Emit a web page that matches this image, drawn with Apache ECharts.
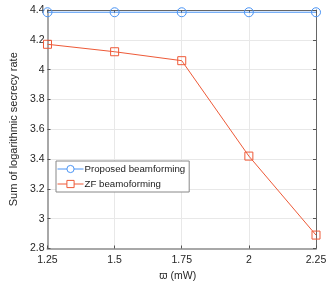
<!DOCTYPE html>
<html>
<head>
<meta charset="utf-8">
<script src="https://cdn.jsdelivr.net/npm/echarts@6/dist/echarts.min.js"></script>
<style>html,body{margin:0;padding:0;background:#fff;}#c{width:332px;height:287px;}</style>
</head>
<body>
<div id="c"></div>
<script>
const xValues = [1.25, 1.5, 1.75, 2, 2.25];
const proposed = [4.385, 4.385, 4.385, 4.385, 4.385];
const zf = [4.17, 4.12, 4.06, 3.42, 2.89];
const seriesNames = ['Proposed beamforming', 'ZF beamoforming'];
const yLabel = 'Sum of logarithmic secrecy rate';
const xLabel = 'ϖ (mW)';

const FONT = 'Liberation Sans';
const BLUE = '#4a94f5';
const ORANGE = '#ee5a38';
const chart = echarts.init(document.getElementById('c'), null, {renderer: 'canvas'});
const pair = arr => xValues.map((x, i) => [x, arr[i]]);
chart.setOption({
  animation: false,
  backgroundColor: '#fff',
  grid: {left: 40, right: 16, top: 10, bottom: 38.5},
  legend: {
    left: 56, top: 161,
    orient: 'vertical',
    data: [
      {name: seriesNames[0],
       itemStyle: {color: '#fff', borderColor: BLUE, borderWidth: 1},
       lineStyle: {color: BLUE, width: 1}},
      {name: seriesNames[1],
       itemStyle: {color: '#fff', borderColor: ORANGE, borderWidth: 1},
       lineStyle: {color: ORANGE, width: 1}}
    ],
    itemWidth: 26, itemHeight: 9, itemGap: 5,
    padding: [3, 4, 3, 1],
    borderColor: '#888', borderWidth: 1,
    backgroundColor: '#fff',
    textStyle: {fontFamily: FONT, fontSize: 9.7, color: '#1a1a1a', padding: [0, 0, 0, -4]}
  },
  xAxis: [{
    type: 'value', min: 1.25, max: 2.25, interval: 0.25,
    name: xLabel, nameLocation: 'middle', nameGap: 20,
    nameTextStyle: {fontFamily: FONT, fontSize: 10.5, color: '#262626', padding: [0, 8, 0, 0]},
    axisLine: {show: true, lineStyle: {color: '#a8a8a8', width: 2}},
    axisTick: {show: true, inside: true, length: 3, lineStyle: {color: '#555'}},
    axisLabel: {fontFamily: FONT, fontSize: 10.5, color: '#262626', margin: 6,
      formatter: v => String(+v.toFixed(2))},
    splitLine: {show: true, lineStyle: {color: '#e8e8e8', width: 1}}
  }, {
    type: 'value', min: 1.25, max: 2.25, interval: 0.25, position: 'top',
    axisLine: {show: true, lineStyle: {color: '#666', width: 1}},
    axisTick: {show: true, inside: true, length: 3, lineStyle: {color: '#555'}},
    axisLabel: {show: false}, splitLine: {show: false}
  }],
  yAxis: [{
    type: 'value', min: 2.8, max: 4.4, interval: 0.2,
    name: yLabel, nameLocation: 'middle', nameGap: 24, nameRotate: 90,
    nameTextStyle: {fontFamily: FONT, fontSize: 11, color: '#262626'},
    axisLine: {show: true, lineStyle: {color: '#a8a8a8', width: 2}},
    axisTick: {show: true, inside: true, length: 3, lineStyle: {color: '#555'}},
    axisLabel: {fontFamily: FONT, fontSize: 10.5, color: '#262626', margin: 3,
      formatter: v => String(+v.toFixed(1))},
    splitLine: {show: true, lineStyle: {color: '#e8e8e8', width: 1}}
  }, {
    type: 'value', min: 2.8, max: 4.4, interval: 0.2, position: 'right',
    axisLine: {show: true, lineStyle: {color: '#666', width: 1}},
    axisTick: {show: true, inside: true, length: 3, lineStyle: {color: '#555'}},
    axisLabel: {show: false}, splitLine: {show: false}
  }],
  series: [{
    name: seriesNames[0], type: 'line', data: pair(proposed),
    symbol: 'circle', symbolSize: 9,
    lineStyle: {color: BLUE, width: 1},
    itemStyle: {color: 'rgba(255,255,255,0)', borderColor: BLUE, borderWidth: 1}
  }, {
    name: seriesNames[1], type: 'line', data: pair(zf),
    symbol: 'rect', symbolSize: 8,
    lineStyle: {color: ORANGE, width: 1},
    itemStyle: {color: 'rgba(255,255,255,0)', borderColor: ORANGE, borderWidth: 1}
  }]
});
</script>
</body>
</html>
